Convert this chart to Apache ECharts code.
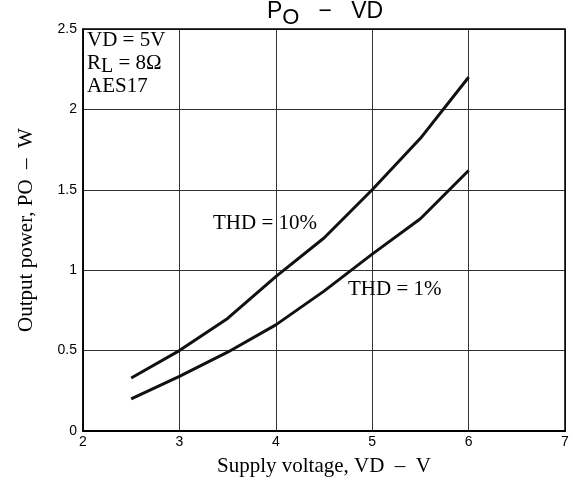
<!DOCTYPE html>
<html><head><meta charset="utf-8">
<script src="https://cdn.jsdelivr.net/npm/echarts@6/dist/echarts.min.js"></script>
<style>html,body{margin:0;padding:0;background:#fff}#c{width:573px;height:482px}</style>
</head><body><div id="c"></div>
<script>
const voltage = [2.5, 3, 3.5, 4, 4.5, 5, 5.5, 6];
const thd10 = [0.33, 0.5, 0.7, 0.96, 1.2, 1.5, 1.82, 2.2];
const thd1 = [0.2, 0.34, 0.49, 0.66, 0.87, 1.1, 1.32, 1.62];
const seriesNames = ['THD = 10%', 'THD = 1%'];
const xTicks = [2, 3, 4, 5, 6, 7];
const yTicks = [0, 0.5, 1, 1.5, 2, 2.5];

const chart = echarts.init(document.getElementById('c'));
const serif = 'Liberation Serif';
const sans = 'Liberation Sans';
chart.setOption({
  animation: false,
  backgroundColor: '#fff',
  title: {
    text: 'P{s|O}   −   VD',
    left: 325, top: 0, padding: 0, textAlign: 'center',
    textStyle: { fontFamily: sans, fontSize: 23, lineHeight: 23, fontWeight: 'normal', color: '#000', verticalAlign: 'top',
      rich: { s: { fontFamily: sans, fontSize: 22, lineHeight: 23, padding: [7, 0, 0, 0], verticalAlign: 'top', color: '#000' } } }
  },
  grid: { left: 83, right: 8, top: 29, bottom: 51 },
  xAxis: {
    type: 'value', min: xTicks[0], max: xTicks[xTicks.length - 1], interval: 1,
    name: 'Supply voltage, VD  –  V', nameLocation: 'middle', nameGap: 25,
    nameTextStyle: { fontFamily: serif, fontSize: 21, color: '#000' },
    axisLine: { show: true, lineStyle: { color: '#000', width: 2 } },
    axisTick: { show: false },
    axisLabel: { fontFamily: sans, fontSize: 14, color: '#000', margin: 4 },
    splitLine: { show: true, lineStyle: { color: '#333', width: 1 } }
  },
  yAxis: {
    type: 'value', min: yTicks[0], max: yTicks[yTicks.length - 1], interval: 0.5,
    name: 'Output power, PO  –  W', nameLocation: 'middle', nameGap: 46,
    nameTextStyle: { fontFamily: serif, fontSize: 21, color: '#000' },
    axisLine: { show: true, lineStyle: { color: '#000', width: 1.5 } },
    axisTick: { show: false },
    axisLabel: { fontFamily: sans, fontSize: 14, color: '#000', margin: 6 },
    splitLine: { show: true, lineStyle: { color: '#333', width: 1 } }
  },
  graphic: [
    { type: 'rect', shape: { x: 83, y: 29, width: 482, height: 402 }, style: { fill: 'none', stroke: '#000', lineWidth: 1.5 }, silent: true, z: 10 },
    { type: 'text', left: 87, top: 29, z: 11, style: { text: 'VD = 5V\nR{s|L} = 8Ω\nAES17', fontFamily: serif, fontSize: 21, lineHeight: 23, fill: '#000',
      rich: { s: { fontFamily: serif, fontSize: 20, lineHeight: 23, fill: '#000', padding: [6, 0, 0, 0] } } } },
    { type: 'text', left: 213, top: 213, z: 11, style: { text: seriesNames[0], fontFamily: serif, fontSize: 21, fill: '#000' } },
    { type: 'text', left: 348, top: 279, z: 11, style: { text: seriesNames[1], fontFamily: serif, fontSize: 21, fill: '#000' } }
  ],
  series: [
    { name: seriesNames[0], type: 'line', data: voltage.map((v, i) => [v, thd10[i]]), showSymbol: false, lineStyle: { color: '#111', width: 3 } },
    { name: seriesNames[1], type: 'line', data: voltage.map((v, i) => [v, thd1[i]]), showSymbol: false, lineStyle: { color: '#111', width: 3 } }
  ]
});
</script></body></html>
